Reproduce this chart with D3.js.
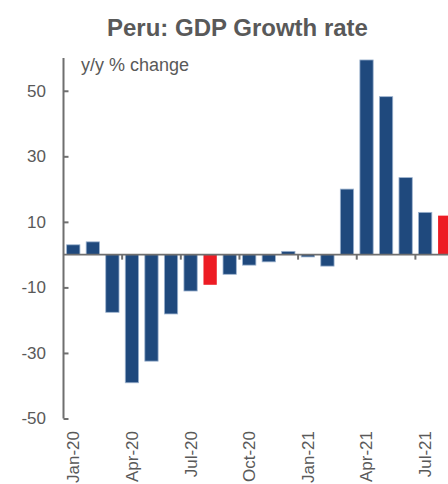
<!DOCTYPE html>
<html><head><meta charset="utf-8">
<script src="https://cdn.jsdelivr.net/npm/d3@7"></script>
<style>
html,body{margin:0;padding:0;background:#fff;}
svg{display:block;font-family:"Liberation Sans",Arial,sans-serif;}
</style></head>
<body><div id="chart"></div>
<script>
const months = ["Jan-20","Feb-20","Mar-20","Apr-20","May-20","Jun-20","Jul-20","Aug-20","Sep-20","Oct-20","Nov-20","Dec-20",
                "Jan-21","Feb-21","Mar-21","Apr-21","May-21","Jun-21","Jul-21","Aug-21"];
const growth = [3.0, 3.9, -17.6, -39.1, -32.5, -18.1, -11.1, -9.2, -6.0, -3.2, -2.2, 1.0,
                -0.7, -3.5, 20.0, 59.4, 48.2, 23.5, 12.9, 11.9];
const highlighted = ["Aug-20","Aug-21"];
const yTicks = [50, 30, 10, -10, -30, -50];
const xLabels = ["Jan-20","Apr-20","Jul-20","Oct-20","Jan-21","Apr-21","Jul-21"];
const title = "Peru: GDP Growth rate";
const yLabel = "y/y % change";

const W = 448, H = 484;
const svg = d3.select("#chart").append("svg").attr("width", W).attr("height", H);

const y = d3.scaleLinear().domain([-50, 60]).range([418.5, 58]);
const x = d3.scaleBand().domain(months).range([63.5, 454.5]).paddingInner(0.32).paddingOuter(0.16);

const grey = "#595959", axisCol = "#6f6f6f";

svg.append("text").attr("x", 237.5).attr("y", 36).attr("text-anchor", "middle")
  .attr("font-size", 24).attr("font-weight", "bold").attr("fill", grey).text(title);

svg.append("text").attr("x", 81).attr("y", 71).attr("font-size", 18).attr("fill", grey).text(yLabel);

// bars
svg.append("g").selectAll("rect").data(months).join("rect")
  .attr("x", d => x(d))
  .attr("width", x.bandwidth())
  .attr("y", (d, i) => y(Math.max(0, growth[i])))
  .attr("height", (d, i) => Math.abs(y(growth[i]) - y(0)))
  .attr("fill", d => highlighted.includes(d) ? "#ED1C24" : "#1F497D")
  .attr("stroke", d => highlighted.includes(d) ? "none" : "#9DB3CF")
  .attr("stroke-width", 0.8);

// y axis
const yAxis = d3.axisRight(y).tickValues(yTicks).tickSize(5).tickFormat("");
const gy = svg.append("g").attr("transform", `translate(${x.range()[0]},0)`).call(yAxis);
gy.select(".domain").attr("stroke", axisCol).attr("stroke-width", 2).attr("d", `M0,${y(60)}V${y(-50)}`);
gy.selectAll(".tick line").attr("stroke", axisCol).attr("stroke-width", 2);
svg.append("g").selectAll("text").data(yTicks).join("text")
  .attr("x", 46).attr("y", d => y(d)).attr("dy", "0.35em").attr("text-anchor", "end")
  .attr("font-size", 17).attr("fill", grey).text(d => d);

// zero line with category ticks
const tickMonths = months.filter((d, i) => i % 3 === 0 && i > 0);
const xAxis = d3.axisBottom(x).tickValues(tickMonths).tickSize(5).tickFormat("").offset(0);
const gx = svg.append("g").attr("transform", `translate(0,${y(0)})`).call(xAxis);
gx.select(".domain").attr("stroke", axisCol).attr("stroke-width", 1.8).attr("d", `M${x.range()[0]},0H${W}`);
gx.selectAll(".tick").attr("transform", d => `translate(${x(d) - x.step() * x.paddingInner() / 2},0)`);
gx.selectAll(".tick line").attr("stroke", axisCol).attr("stroke-width", 2);

// rotated month labels
svg.append("g").selectAll("text").data(xLabels).join("text")
  .attr("transform", d => `translate(${x(d) + x.bandwidth() / 2},431) rotate(-90)`)
  .attr("dy", "0.35em").attr("text-anchor", "end")
  .attr("font-size", 17).attr("fill", grey).text(d => d);
</script>
</body></html>
